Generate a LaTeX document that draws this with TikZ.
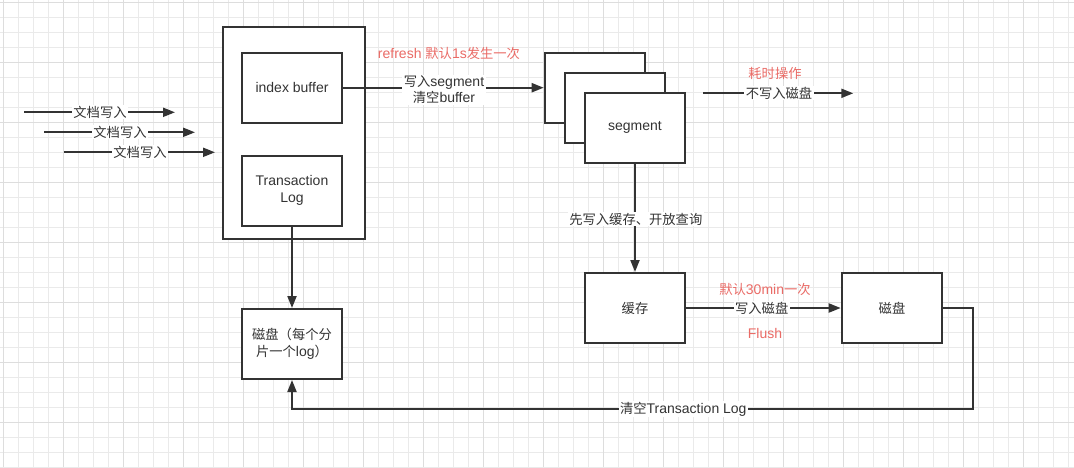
\documentclass[tikz,border=0pt]{standalone}
\usepackage{fontspec}
\setmainfont{Liberation Sans}
\newfontfamily\cjk[Scale=0.95]{Noto Sans CJK SC}
\usetikzlibrary{arrows.meta}
\definecolor{ink}{HTML}{333333}
\definecolor{redtxt}{HTML}{EA6B66}
\definecolor{gridminor}{HTML}{EAEAEA}
\definecolor{gridmajor}{HTML}{DDDDDD}
\tikzset{
  box/.style={draw=ink, fill=white, line width=2pt, minimum width=100.6pt, minimum height=70pt,
    inner sep=0pt, text=ink, font=\fontsize{14}{17}\selectfont, align=center},
  conn/.style={draw=ink, line width=2pt, -{Triangle[length=12pt,width=9pt]}},
  lbl/.style={fill=white, text=ink, inner xsep=1.5pt, inner ysep=1pt,
    font=\fontsize{14}{16}\selectfont, align=center},
  note/.style={text=redtxt, inner sep=0pt, font=\fontsize{14}{16}\selectfont},
}
\begin{document}
\begin{tikzpicture}[x=1pt,y=-1pt]
\useasboundingbox (0,0) rectangle (1074,467);
\fill[white] (0,0) rectangle (1074,467);
% grid
\foreach \i in {0,...,71} { \pgfmathsetmacro\xx{3.3+15*\i} \draw[gridminor, line width=1pt] (\xx,0) -- (\xx,467); }
\foreach \i in {0,...,31} { \pgfmathsetmacro\yy{2.7+15*\i} \draw[gridminor, line width=1pt] (0,\yy) -- (1074,\yy); }
\foreach \i in {0,...,17} { \pgfmathsetmacro\xx{3.3+60*\i} \draw[gridmajor, line width=1pt] (\xx,0) -- (\xx,467); }
\foreach \i in {0,...,7} { \pgfmathsetmacro\yy{2.7+60*\i} \draw[gridmajor, line width=1pt] (0,\yy) -- (1074,\yy); }

% boxes
\node[box, minimum width=142.3pt, minimum height=212.3pt] (outer) at (293.85,132.85) {};
\node[box] (ib) at (292,87.7) {index buffer};
\node[box] (tl) at (292,190.5) {Transaction\\Log};
\node[box] (disklog) at (292,344) {{\cjk 磁盘（每个分}\\{\cjk 片一个}log{\cjk ）}};
\node[box] (seg1) at (595,87.7) {};
\node[box] (seg2) at (615,107.7) {};
\node[box] (seg3) at (635,127.7) {segment};
\node[box] (cache) at (635,308) {\cjk 缓存};
\node[box] (disk) at (892,308) {\cjk 磁盘};

% input arrows
\coordinate (a1s) at (24,112.3);  \coordinate (a1e) at (175,112.3);
\coordinate (a2s) at (44.3,132.3); \coordinate (a2e) at (195,132.3);
\coordinate (a3s) at (64.3,152.3); \coordinate (a3e) at (215,152.3);
\draw[conn] (a1s) -- (a1e);
\draw[conn] (a2s) -- (a2e);
\draw[conn] (a3s) -- (a3e);
\node[lbl] at (100,112.3) {\cjk 文档写入};
\node[lbl] at (120,132.3) {\cjk 文档写入};
\node[lbl] at (140,152.3) {\cjk 文档写入};

% index buffer -> segment
\draw[conn] (ib.east) -- (seg1.west);
\node[lbl] at (444,89.7) {{\cjk 写入}segment\\{\cjk 清空}buffer};
\node[note] at (449,53) {refresh {\cjk 默认}1s{\cjk 发生一次}};

% not written to disk
\coordinate (ns) at (703.3,93.3); \coordinate (ne) at (853.3,93.3);
\draw[conn] (ns) -- (ne);
\node[lbl] at (779,93.3) {\cjk 不写入磁盘};
\node[note] at (775,73.3) {\cjk 耗时操作};

% segment -> cache
\draw[conn] (seg3.south) -- (cache.north);
\node[lbl] at (635.8,219) {\cjk 先写入缓存、开放查询};

% cache -> disk
\draw[conn] (cache.east) -- (disk.west);
\node[lbl] at (761.7,308) {\cjk 写入磁盘};
\node[note] at (765,289) {{\cjk 默认}30min{\cjk 一次}};
\node[note] at (765,333.3) {Flush};

% Transaction log -> disk log
\draw[conn] (tl.south) -- (disklog.north);

% disk -> clear transaction log
\coordinate (r2) at (973.3,409);
\draw[conn] (disk.east) -| (r2) -| (disklog.south);
\node[lbl] at (683.3,409) {{\cjk 清空}Transaction Log};
\end{tikzpicture}
\end{document}
